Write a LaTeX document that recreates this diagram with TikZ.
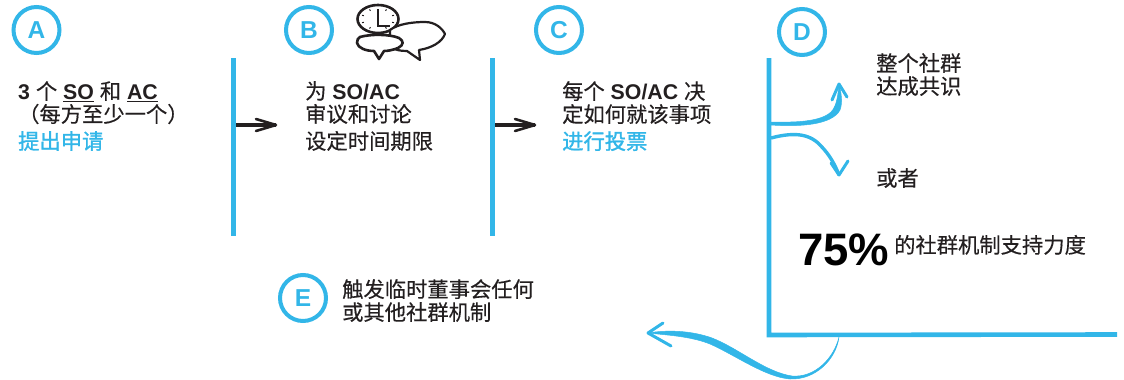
\documentclass[tikz,border=0pt]{standalone}
\usepackage{fontspec}
\setmainfont{Liberation Sans}
\newfontfamily\cjk[FakeBold=0.35]{Noto Sans CJK SC}
\newfontfamily\cjkb[FakeBold=1.4]{Noto Sans CJK SC}
\definecolor{sky}{HTML}{32B6E8}
\definecolor{ink}{HTML}{231F20}
\newcommand{\cn}[1]{{\cjk #1}}
\newcommand{\cnb}[1]{\textcolor{sky}{\cjkb #1}}
\newcommand{\sz}{\fontsize{21.3}{24}\selectfont}
\tikzset{
  x=1pt,y=-1pt,
  badge/.style={circle,draw=sky,line width=4pt,minimum size=46pt,inner sep=0pt,text=sky,font=\fontsize{24.5}{25}\selectfont\bfseries},
  copy/.style={anchor=north west,align=left,inner sep=0pt,text=ink,font=\sz},
  bar/.style={draw=sky,line width=5pt},
  swoosh/.style={fill=sky,draw=sky,line width=.5pt,line join=round},
  tipline/.style={draw=sky,line width=3pt,line cap=round,line join=round},
  nextarrow/.style={draw=ink,line width=4pt},
  nexthead/.style={draw=ink,line width=2.6pt,line cap=round,line join=round},
  sketch/.style={draw=ink,line width=2.2pt,fill=white,line join=round},
}
\begin{document}
\begin{tikzpicture}
\useasboundingbox (0,0) rectangle (1124,380);
% badges
\node[badge] (A) at (36.5,30) {A};
\node[badge] (B) at (309,30) {B};
\node[badge] (C) at (559,30) {C};
\node[badge] (D) at (802,32) {D};
\node[badge] (E) at (303,298) {E};
% bars
\coordinate (ab1) at (233,58); \coordinate (ab2) at (233,236);
\coordinate (bc1) at (492,58); \coordinate (bc2) at (492,236);
\coordinate (d1) at (769,58); \coordinate (d2) at (769,335); \coordinate (d3) at (1117,334.5);
\draw[bar] (ab1) -- (ab2);
\draw[bar] (bc1) -- (bc2);
\draw[bar,line width=4.6pt,line join=miter] (d1) -- (d2) -- (d3);
% next arrows
\coordinate (abs) at (236,125); \coordinate (abe) at (276,125);
\coordinate (bcs) at (495,125); \coordinate (bce) at (535,125);
\draw[nextarrow] (abs) -- (abe);
\draw[nexthead] (256,119) -- (abe) -- (256,131);
\draw[nextarrow] (bcs) -- (bce);
\draw[nexthead] (515,119) -- (bce) -- (515,131);
% texts
\node[copy] (ta) at (18,81) {\textbf{3} \cn{个} \textbf{\underline{SO}} \cn{和} \textbf{\underline{AC}}\\[-1pt]\cn{（每方至少一个）}\\[3pt]\cnb{提出申请}};
\node[copy] (tb) at (305,81) {\cn{为} \textbf{SO/AC}\\[-1pt]\cn{审议和讨论}\\[3pt]\cn{设定时间期限}};
\node[copy] (tc) at (562,81) {\cn{每个} \textbf{SO/AC} \cn{决}\\[-1pt]\cn{定如何就该事项}\\[3pt]\cnb{进行投票}};
\node[copy] (td1) at (876,53) {\cn{整个社群}\\[-1pt]\cn{达成共识}};
\node[copy] (td2) at (876,168) {\cn{或者}};
\node[anchor=base west,inner sep=0pt,text=black,font=\fontsize{45.5}{46}\selectfont\bfseries] (pct) at (798,265.5) {75\%};
\node[copy,anchor=base west] (td3) at (894,253) {\cn{的社群机制支持力度}};
\node[copy] (te) at (342,279) {\cn{触发临时董事会任何}\\[-1pt]\cn{或其他社群机制}};
% D arrows
\coordinate (up0) at (771,122); \coordinate (uptip) at (839,84);
\fill[swoosh] (up0) .. controls (795,122.5) and (820,122) .. (831,112) .. controls (837,106) and (838,94) .. (uptip)
  .. controls (841,92) and (843,102) .. (840,110) .. controls (832,125) and (800,127) .. (771,125) -- cycle;
\draw[tipline] (832,100) -- (uptip) -- (847,97);
\coordinate (dn0) at (771,138); \coordinate (dntip) at (839,175);
\draw[sky,line width=3.4pt] (dn0) .. controls (790,133) and (808,132) .. (820,145) .. controls (830,155) and (835,165) .. (dntip);
\draw[tipline] (831,163) -- (dntip) -- (848,161);
% bottom arrow
\coordinate (bt0) at (839,337); \coordinate (bttip) at (648,333);
\fill[swoosh] (bt0) .. controls (836,360) and (815,380) .. (790,379) .. controls (765,377) and (735,355) .. (710,344)
  .. controls (690,336) and (665,335) .. (bttip) .. controls (665,330) and (690,330) .. (712,338)
  .. controls (738,348) and (765,372) .. (792,376) .. controls (815,378) and (834,358) .. (bt0) -- cycle;
\draw[tipline] (663,323) -- (bttip) -- (671,346);
% clock and speech bubbles
\draw[sketch,line width=2.6pt] (378,19) ellipse (20.5pt and 14pt);
\draw[ink,line width=1.5pt] (378,9) -- (378,26) -- (390,26);
\foreach \a in {20,60,120,160,200,240,300,340} \draw[ink,line width=1pt] ({378+15*cos(\a)},{19+9.5*sin(\a)}) -- ({378+17*cos(\a)},{19+11*sin(\a)});
\draw[sketch] (390,30) .. controls (398,24) and (412,22) .. (425,22) .. controls (435,22) and (442,28) .. (445,34)
 .. controls (442,42) and (432,48) .. (419,50) -- (420,60) -- (407,51) .. controls (400,51) and (394,50) .. (390,46) -- cycle;
\draw[sketch,line width=2.6pt] (360,37) .. controls (370,34) and (390,34) .. (399,38) .. controls (404,41) and (404,45) .. (398,48)
 .. controls (393,50) and (388,51) .. (384,51) -- (379,59) -- (374,51) .. controls (366,51) and (358,48) .. (357,43) .. controls (357,40) and (358,38) .. (360,37) -- cycle;
\end{tikzpicture}
\end{document}
